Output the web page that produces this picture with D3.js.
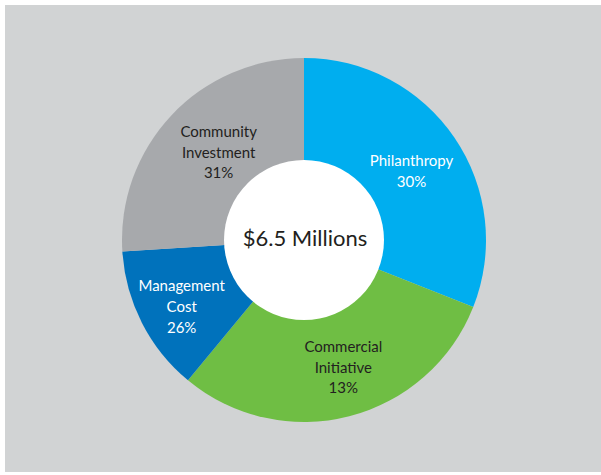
<!DOCTYPE html>
<html>
<head>
<meta charset="utf-8">
<script src="https://cdn.jsdelivr.net/npm/d3@7/dist/d3.min.js"></script>
<style>
  html, body { margin: 0; padding: 0; background: #ffffff; }
  svg { display: block; }
  text { font-family: "Lato", "DejaVu Sans", sans-serif; }
</style>
</head>
<body>
<svg id="chart" width="601" height="475"></svg>
<script>
// ---- data ----
const categories = ["Philanthropy", "Commercial Initiative", "Management Cost", "Community Investment"];
const labelLines = [["Philanthropy"], ["Commercial", "Initiative"], ["Management", "Cost"], ["Community", "Investment"]];
const shares = [31, 30, 13, 26];           // slice sizes as drawn
const labelPercents = [30, 13, 26, 31];    // percentages as printed on the slices
const totalLabel = "$6.5 Millions";
const colors = ["#00aeef", "#6fbe44", "#0072bc", "#a7a9ac"];
const textColors = ["#ffffff", "#231f20", "#ffffff", "#231f20"];

// ---- layout ----
const W = 601, H = 475;
const cx = 304, cy = 240;
const outerR = 182, innerR = 80, labelR = 130;
const nudges = [[0, 4], [7, 1], [-6.5, 7.4], [9.4, 1]];
const lineH = 20.7, capH = 11.5;

const svg = d3.select("#chart");

// background panel
svg.append("rect").attr("x", 0).attr("y", 0).attr("width", W).attr("height", H).attr("fill", "#ffffff");
svg.append("rect").attr("x", 5).attr("y", 5).attr("width", W - 5).attr("height", H - 8).attr("fill", "#d1d3d4");

const g = svg.append("g").attr("transform", `translate(${cx},${cy})`);

const pie = d3.pie().sort(null).value(d => d.share);
const data = categories.map((c, i) => ({ name: c, share: shares[i], pct: labelPercents[i], lines: labelLines[i], i }));
const arcs = pie(data);

const arc = d3.arc().innerRadius(0).outerRadius(outerR);
const labelArc = d3.arc().innerRadius(labelR).outerRadius(labelR);

g.selectAll("path.slice").data(arcs).enter().append("path")
  .attr("class", "slice")
  .attr("d", arc)
  .attr("fill", d => colors[d.data.i]);

// center hole
g.append("circle").attr("r", innerR).attr("fill", "#ffffff");

g.append("text")
  .attr("x", 1).attr("y", 6)
  .attr("text-anchor", "middle")
  .attr("font-size", 22)
  .attr("fill", "#231f20")
  .text(totalLabel);

// slice labels
arcs.forEach(d => {
  const i = d.data.i;
  const [x0, y0] = labelArc.centroid(d);
  const x = x0 + nudges[i][0], yc = y0 + nudges[i][1];
  const lines = d.data.lines.concat([d.data.pct + "%"]);
  const n = lines.length;
  const firstBase = yc - (capH + (n - 1) * lineH) / 2 + capH;
  const t = g.append("text")
    .attr("text-anchor", "middle")
    .attr("font-size", 15)
    .attr("fill", textColors[i]);
  lines.forEach((ln, k) => {
    t.append("tspan").attr("x", x).attr("y", firstBase + k * lineH).text(ln);
  });
});
</script>
</body>
</html>
